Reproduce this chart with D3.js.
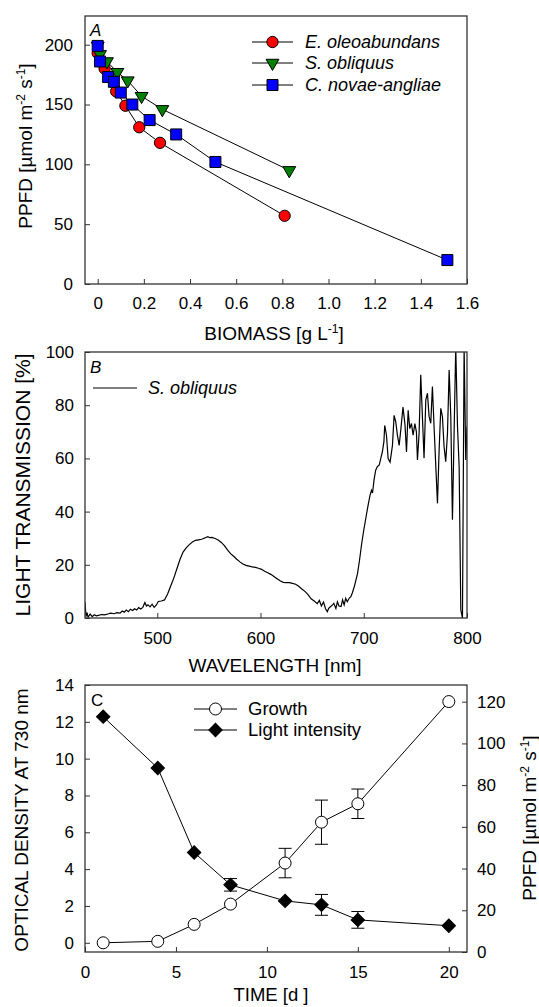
<!DOCTYPE html>
<html>
<head>
<meta charset="utf-8">
<script src="https://cdn.jsdelivr.net/npm/d3@7/dist/d3.min.js"></script>
<style>
    body { margin: 0; background: #fff; }
    svg text { font-family: Arial, "Liberation Sans", sans-serif; fill: #000; }
</style>
</head>
<body>
<svg id="chart" width="539" height="1007"></svg>
<script>
// panel A: PPFD vs biomass
const biomassE = [0, 0.01, 0.03, 0.08, 0.12, 0.18, 0.27, 0.81]
const ppfdE = [193, 186, 180, 161, 149, 131, 118, 57]
const biomassS = [0, 0.01, 0.04, 0.085, 0.13, 0.19, 0.28, 0.83]
const ppfdS = [199, 192, 186, 177, 170, 157, 146, 95]
const biomassC = [0, 0.01, 0.045, 0.07, 0.10, 0.15, 0.225, 0.34, 0.51, 1.515]
const ppfdC = [199, 186, 173, 169, 160, 150, 137, 125, 102, 20]
const ticksA_x = [0, 0.2, 0.4, 0.6, 0.8, 1.0, 1.2, 1.4, 1.6]
const ticksA_y = [0, 50, 100, 150, 200]

// panel B: transmission spectrum, S. obliquus
const wavelength = [430, 431, 432, 433, 435, 437, 439, 441, 443, 446, 449, 452, 455, 458, 461, 464, 466, 468, 470, 472,
    474, 476, 478, 480, 482, 484, 486, 488, 489.5, 491, 493, 495, 497, 499, 501, 504, 507, 510, 513, 516,
    519, 522, 525, 528, 531, 534, 537, 540, 543, 546, 549, 551, 553, 556, 559, 562, 565, 568, 571, 574,
    577, 580, 583, 586, 589, 592, 595, 598, 601, 604, 607, 610, 613, 616, 619, 622, 625, 628, 631, 634,
    637, 640, 643, 646, 649, 652, 655, 657, 659, 661, 663, 664.7, 666, 668, 670, 671, 673, 674.5, 676, 678,
    679.5, 681, 682.5, 684, 686, 687.5, 689, 691, 694, 696, 698, 700, 702, 704, 706, 707.5, 708.5, 710, 711.5, 713,
    715, 716.5, 718, 719.5, 720.3, 722, 723.6, 725.5, 727.8, 729.4, 731, 732.6, 734.3, 736, 738, 740, 741.4, 743, 744.6, 746.2,
    747.8, 749.5, 751, 752, 753.6, 755.2, 756.8, 758.4, 760.1, 761.7, 763.3, 764.9, 766.5, 768.1, 769.8, 771.4, 773, 774.6, 776.2, 777.8,
    779.4, 781.1, 782.7, 784.3, 785.9, 787.5, 789.1, 790.8, 792.4, 794, 795.6, 797.2, 798.8, 800]
const transmission = [6.0, 0.5, 2.0, 0.3, 1.5, 0.5, 1.2, 0.8, 1.0, 1.3, 1.2, 1.5, 1.8, 1.6, 2.0, 1.8, 2.6, 2.2, 3.0, 2.4,
    3.3, 2.8, 3.5, 3.0, 3.9, 3.4, 4.0, 5.8, 4.5, 5.0, 4.2, 5.2, 4.0, 4.8, 6.2, 6.4, 6.8, 9.0, 12.0, 15.0,
    18.5, 22.0, 24.8, 26.4, 27.6, 28.6, 29.2, 29.4, 29.6, 30.1, 30.6, 30.2, 30.3, 29.9, 29.3, 28.4, 27.2, 25.6, 24.2, 23.2,
    22.1, 21.1, 20.3, 19.8, 19.5, 19.2, 19.0, 18.7, 18.3, 17.6, 17.0, 16.4, 15.6, 14.8, 14.0, 13.4, 13.3, 13.3, 13.0, 12.7,
    11.9, 10.9, 10.0, 8.8, 7.2, 6.4, 5.4, 6.6, 4.5, 6.0, 3.5, 2.4, 3.6, 4.3, 5.0, 5.5, 3.6, 6.1, 4.5, 4.3,
    6.8, 4.9, 7.4, 6.1, 7.5, 8.0, 9.5, 12.0, 16.8, 22, 28, 33, 37.5, 42, 46, 48, 47, 52, 55.5, 56.8,
    57.5, 60, 62.4, 66.2, 72.4, 68.7, 59.9, 58.6, 64.9, 76.2, 73.7, 68.7, 64.9, 71.2, 79.3, 72.4, 62.4, 78.1, 71.2, 73.1,
    68.7, 73.1, 70, 59.4, 69.5, 91.4, 75.7, 60.1, 82, 84.5, 75.7, 73.2, 87, 72, 56.9, 43.1, 63.2, 78.8, 75.7, 64.4,
    58.8, 69.5, 93.2, 75.7, 36.9, 69.5, 102, 72, 56.9, 3, 0, 102, 59.4, 72]
const ticksB_x = [500, 600, 700, 800]
const ticksB_y = [0, 20, 40, 60, 80, 100]

// panel C: growth and light intensity over time
const days = [1, 4, 6, 8, 11, 13, 15, 20]
const growthOD = [0.0, 0.08, 1.0, 2.1, 4.33, 6.55, 7.55, 13.1]
const growthErr = [0, 0, 0, 0, 0.8, 1.2, 0.8, 0]
const lightPPFD = [112.8, 88.2, 47.7, 32.2, 24.5, 22.6, 15.4, 12.6]
const lightErr = [0, 0, 0, 3, 0, 5, 4, 0]
const ticksC_x = [0, 5, 10, 15, 20]
const ticksC_yl = [0, 2, 4, 6, 8, 10, 12, 14]
const ticksC_yr = [0, 20, 40, 60, 80, 100, 120]

const svg = d3.select("#chart")
const FRAME = "#333"
const TICK_FONT = 17

function drawFrame(box) {
    svg.append("rect")
        .attr("x", box.left).attr("y", box.top)
        .attr("width", box.right - box.left)
        .attr("height", box.bottom - box.top)
        .attr("fill", "none")
        .attr("stroke", FRAME)
        .attr("stroke-width", 1.3)
}

function drawAxis(axis, tx, ty) {
    const g = svg.append("g")
        .attr("transform", "translate(" + tx + "," + ty + ")")
        .call(axis)
    g.select(".domain").remove()
    g.selectAll(".tick line").attr("stroke", FRAME).attr("stroke-width", 1)
    g.selectAll(".tick text").attr("font-size", TICK_FONT).attr("fill", "#000")
    return g
}

function addMarkers(xs, ys, x, y, shape, size, fill, rotate) {
    svg.append("g")
        .selectAll("path")
        .data(xs)
        .enter()
        .append("path")
        .attr("d", d3.symbol().type(shape).size(size))
        .attr("transform", function (d, i) {
            return "translate(" + x(d) + "," + y(ys[i]) + ") rotate(" + (rotate || 0) + ")"
        })
        .attr("fill", fill)
        .attr("stroke", "#000")
        .attr("stroke-width", 1)
}

function addLine(xs, ys, x, y, width) {
    svg.append("path")
        .datum(xs)
        .attr("d", d3.line()
            .x(function (d) { return x(d) })
            .y(function (d, i) { return y(ys[i]) }))
        .attr("fill", "none")
        .attr("stroke", "#000")
        .attr("stroke-width", width || 1)
}

function addSupText(el, parts, supSize) {
    parts.forEach(function (p) {
        el.append("tspan")
            .attr("dy", p.dy || 0)
            .attr("font-size", p.sup ? supSize : null)
            .text(p.t)
    })
}

function legendRow(x1, x2, y, shape, size, fill, rotate) {
    svg.append("line")
        .attr("x1", x1).attr("x2", x2).attr("y1", y).attr("y2", y)
        .attr("stroke", "#000").attr("stroke-width", 1)
    if (shape) {
        svg.append("path")
            .attr("d", d3.symbol().type(shape).size(size))
            .attr("transform", "translate(" + (x1 + x2) / 2 + "," + y + ") rotate(" + (rotate || 0) + ")")
            .attr("fill", fill)
            .attr("stroke", "#000")
    }
}

function label(x, y, text, size, opts) {
    opts = opts || {}
    return svg.append("text")
        .attr("x", x).attr("y", y)
        .attr("font-size", size)
        .attr("font-style", opts.italic ? "italic" : null)
        .attr("text-anchor", opts.anchor || "start")
        .text(text)
}

// ---------- panel A ----------
const boxA = { left: 85, right: 467, top: 16, bottom: 284 }
const xA = d3.scaleLinear().domain([-0.055, 1.6]).range([boxA.left, boxA.right])
const yA = d3.scaleLinear().domain([0, 224]).range([boxA.bottom, boxA.top])

drawAxis(d3.axisBottom(xA).tickValues(ticksA_x)
    .tickFormat(function (d) { return d === 0 ? "0" : d3.format(".1f")(d) })
    .tickSizeInner(-5).tickSizeOuter(0).tickPadding(13), 0, boxA.bottom)
drawAxis(d3.axisLeft(yA).tickValues(ticksA_y).tickSizeInner(-5).tickSizeOuter(0).tickPadding(12), boxA.left, 0)

addLine(biomassE, ppfdE, xA, yA)
addLine(biomassS, ppfdS, xA, yA)
addLine(biomassC, ppfdC, xA, yA)
addMarkers(biomassE, ppfdE, xA, yA, d3.symbolCircle, 100, "#ff0000")
addMarkers(biomassS, ppfdS, xA, yA, d3.symbolTriangle, 72, "#007f00", 180)
addMarkers(biomassC, ppfdC, xA, yA, d3.symbolSquare, 121, "#0000ff")
drawFrame(boxA)

label(90, 36, "A", 17, { italic: true })
legendRow(252, 293, 42, d3.symbolCircle, 100, "#ff0000")
legendRow(252, 293, 63, d3.symbolTriangle, 72, "#007f00", 180)
legendRow(252, 293, 85, d3.symbolSquare, 121, "#0000ff")
label(305, 42, "E. oleoabundans", 18, { italic: true }).attr("dy", "0.35em")
label(305, 63, "S. obliquus", 18, { italic: true }).attr("dy", "0.35em")
label(305, 85, "C. novae-angliae", 18, { italic: true }).attr("dy", "0.35em")

const titleAx = label(274, 340, "", 19, { anchor: "middle" })
addSupText(titleAx, [{ t: "BIOMASS [g L" }, { t: "-1", sup: true, dy: -7 }, { t: "]", dy: 7 }], 12)

const titleAy = svg.append("text")
    .attr("transform", "translate(32,146) rotate(-90)")
    .attr("text-anchor", "middle")
    .attr("font-size", 19)
addSupText(titleAy, [{ t: "PPFD [µmol m" }, { t: "-2", sup: true, dy: -7 }, { t: " s", dy: 7 },
    { t: "-1", sup: true, dy: -7 }, { t: "]", dy: 7 }], 12)

// ---------- panel B ----------
const boxB = { left: 85, right: 467, top: 352, bottom: 618 }
const xB = d3.scaleLinear().domain([430, 800]).range([boxB.left, boxB.right])
const yB = d3.scaleLinear().domain([0, 100]).range([boxB.bottom, boxB.top])

drawAxis(d3.axisBottom(xB).tickValues(ticksB_x).tickSizeInner(-5).tickSizeOuter(0).tickPadding(14), 0, boxB.bottom)
drawAxis(d3.axisLeft(yB).tickValues(ticksB_y).tickSizeInner(-5).tickSizeOuter(0).tickPadding(11), boxB.left, 0)

svg.append("clipPath").attr("id", "clipB")
    .append("rect")
    .attr("x", boxB.left).attr("y", boxB.top)
    .attr("width", boxB.right - boxB.left).attr("height", boxB.bottom - boxB.top)

svg.append("path")
    .datum(wavelength)
    .attr("clip-path", "url(#clipB)")
    .attr("d", d3.line()
        .x(function (d) { return xB(d) })
        .y(function (d, i) { return yB(transmission[i]) }))
    .attr("fill", "none")
    .attr("stroke", "#000")
    .attr("stroke-width", 1.2)
drawFrame(boxB)

label(90, 373, "B", 17, { italic: true })
legendRow(93, 137, 388)
label(148, 388, "S. obliquus", 18, { italic: true }).attr("dy", "0.35em")

label(275, 672, "WAVELENGTH [nm]", 19, { anchor: "middle" })
svg.append("text")
    .attr("transform", "translate(30,485) rotate(-90)")
    .attr("text-anchor", "middle")
    .attr("font-size", 21)
    .text("LIGHT TRANSMISSION [%]")

// ---------- panel C ----------
const boxC = { left: 85, right: 467, top: 685, bottom: 952 }
const xC = d3.scaleLinear().domain([0, 21]).range([boxC.left, boxC.right])
const yCl = d3.scaleLinear().domain([-0.5, 14]).range([boxC.bottom, boxC.top])
const yCr = d3.scaleLinear().domain([0, 128]).range([boxC.bottom, boxC.top])

drawAxis(d3.axisBottom(xC).tickValues(ticksC_x).tickSizeInner(-5).tickSizeOuter(0).tickPadding(14), 0, boxC.bottom)
drawAxis(d3.axisLeft(yCl).tickValues(ticksC_yl).tickSizeInner(-5).tickSizeOuter(0).tickPadding(11), boxC.left, 0)
drawAxis(d3.axisRight(yCr).tickValues(ticksC_yr).tickSizeInner(-5).tickSizeOuter(0).tickPadding(10), boxC.right, 0)

addLine(days, growthOD, xC, yCl)
addLine(days, lightPPFD, xC, yCr)

function errorBars(xs, ys, errs, y) {
    const g = svg.append("g").attr("stroke", "#000").attr("stroke-width", 1)
    xs.forEach(function (d, i) {
        if (!errs[i]) return
        const cx = xC(d)
        const y1 = y(ys[i] + errs[i])
        const y2 = y(ys[i] - errs[i])
        g.append("line").attr("x1", cx).attr("x2", cx).attr("y1", y1).attr("y2", y2)
        g.append("line").attr("x1", cx - 6.5).attr("x2", cx + 6.5).attr("y1", y1).attr("y2", y1)
        g.append("line").attr("x1", cx - 6.5).attr("x2", cx + 6.5).attr("y1", y2).attr("y2", y2)
    })
}
errorBars(days, growthOD, growthErr, yCl)
errorBars(days, lightPPFD, lightErr, yCr)

addMarkers(days, lightPPFD, xC, yCr, d3.symbolSquare, 90, "#000", 45)
addMarkers(days, growthOD, xC, yCl, d3.symbolCircle, 113, "#fff")
drawFrame(boxC)

label(91, 706, "C", 17)
legendRow(194, 237, 709, d3.symbolCircle, 113, "#fff")
legendRow(194, 237, 730, d3.symbolSquare, 90, "#000", 45)
label(248, 709, "Growth", 18.5).attr("dy", "0.35em")
label(248, 730, "Light intensity", 18.5).attr("dy", "0.35em")

label(271, 1001, "TIME [d ]", 18.5, { anchor: "middle" })
svg.append("text")
    .attr("transform", "translate(28,820) rotate(-90)")
    .attr("text-anchor", "middle")
    .attr("font-size", 19)
    .text("OPTICAL DENSITY AT 730 nm")

const titleCr = svg.append("text")
    .attr("transform", "translate(536,818) rotate(-90)")
    .attr("text-anchor", "middle")
    .attr("font-size", 19)
addSupText(titleCr, [{ t: "PPFD [µmol m" }, { t: "-2", sup: true, dy: -7 }, { t: " s", dy: 7 },
    { t: "-1", sup: true, dy: -7 }, { t: "]", dy: 7 }], 12)
</script>
</body>
</html>
